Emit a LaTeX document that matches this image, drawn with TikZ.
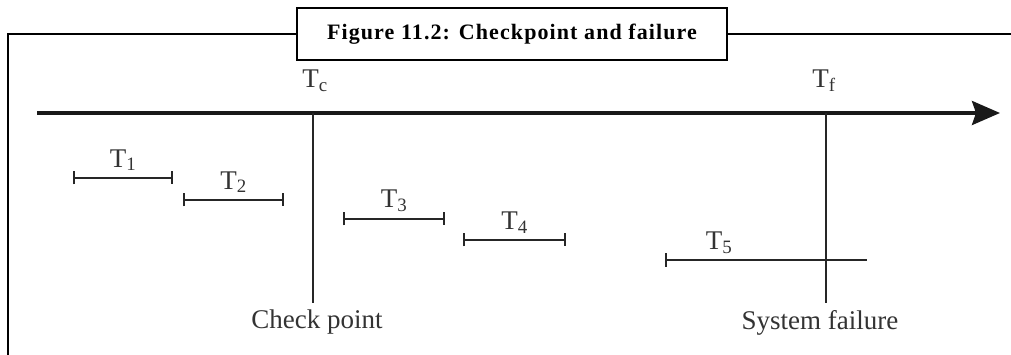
\documentclass[tikz,border=0pt]{standalone}
\usepackage{fontspec}
\setmainfont{Liberation Serif}
\usepackage{tikz}
\usetikzlibrary{arrows.meta, positioning, calc}

\begin{document}
\begin{tikzpicture}[
        x=1pt, y=-1pt,
        lbl/.style={inner sep=0pt, text=black!80, font=\fontsize{27}{30}\selectfont},
        tr/.style={line width=2pt, draw=black!85, {Bar[width=13pt,line width=2pt]}-{Bar[width=13pt,line width=2pt]}},
        >=Latex
    ]
        \useasboundingbox (0,0) rectangle (1011,355);

        % frame and caption
        \node[draw, line width=2pt, minimum width=430pt, minimum height=52pt, inner sep=0pt,
              font=\bfseries\fontsize{22}{24}\selectfont\addfontfeatures{LetterSpace=5}] (cap) at (512,34) {Figure 11.2: Checkpoint and failure};
        \coordinate (fl) at (7.5,360);
        \coordinate (fr) at (1015,34);
        \draw[line width=2pt] (fl) |- (cap.west);
        \draw[line width=2pt] (cap.east) -- (fr);

        % time axis
        \coordinate (a0) at (37,113);
        \coordinate (a1) at (1000,113);
        \draw[line width=3.5pt, draw=black!90, -{Stealth[length=28pt, width=24pt, inset=4pt]}] (a0) -- (a1);

        \coordinate (tc) at (313,113);
        \coordinate (tf) at (826,113);
        \node[lbl, anchor=south] (tcl) at ($(tc)+(2,-21)$) {T\textsubscript{c}};
        \node[lbl, anchor=south] (tfl) at ($(tf)+(-2,-21)$) {T\textsubscript{f}};
        \node[lbl, anchor=north] (cp) at (317,310) {Check point};
        \node[lbl, anchor=north] (sf) at (820,310) {System failure};
        \draw[line width=2pt, draw=black!85] (tc) -- (tc |- 0,303);
        \draw[line width=2pt, draw=black!85] (tf) -- (tf |- 0,303);

        % transactions
        \foreach \i/\xa/\xb/\yy in {1/73/173/178, 2/183/284/200, 3/343/445/219, 4/463/566/240} {
            \coordinate (s\i) at (\xa,\yy);
            \coordinate (e\i) at (\xb,\yy);
            \draw[tr] (s\i) -- node[lbl, above=6pt] (t\i) {T\textsubscript{\i}} (e\i);
        }
        \coordinate (s5) at (665,260);
        \coordinate (e5) at (867,260);
        \draw[line width=2pt, draw=black!85, {Bar[width=13pt,line width=2pt]}-] (s5) -- (e5);
        \node[lbl, anchor=south] (t5) at (719,254) {T\textsubscript{5}};
    \end{tikzpicture}
\end{document}
